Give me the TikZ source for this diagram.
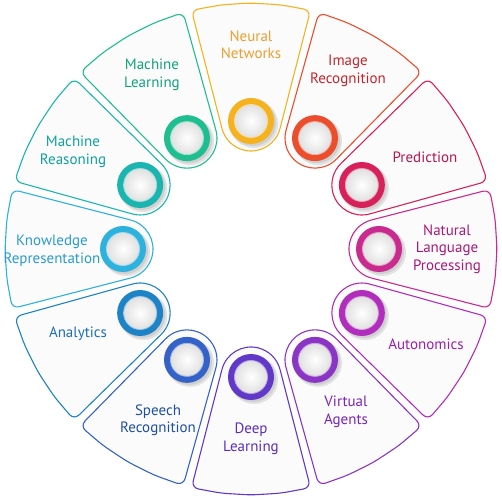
\documentclass[tikz,border=0pt]{standalone}
\usepackage{fontspec}
\setmainfont{PT Sans}

%% segment colours (ring / text)
\definecolor{nnRing}{HTML}{F5B21F}  \definecolor{nnText}{HTML}{E9A030}
\definecolor{irRing}{HTML}{EA4E2C}  \definecolor{irText}{HTML}{C4262D}
\definecolor{prRing}{HTML}{D7215B}  \definecolor{prText}{HTML}{B5174F}
\definecolor{nlRing}{HTML}{C92A8E}  \definecolor{nlText}{HTML}{A8197A}
\definecolor{auRing}{HTML}{B12EBC}  \definecolor{auText}{HTML}{9A1FB0}
\definecolor{vaRing}{HTML}{8A35C4}  \definecolor{vaText}{HTML}{7A25B5}
\definecolor{dlRing}{HTML}{6238C8}  \definecolor{dlText}{HTML}{5A2DBE}
\definecolor{srRing}{HTML}{3462C8}  \definecolor{srText}{HTML}{1F4FA0}
\definecolor{anRing}{HTML}{1E83C6}  \definecolor{anText}{HTML}{1E6FB5}
\definecolor{krRing}{HTML}{2DB1DD}  \definecolor{krText}{HTML}{2A9BD0}
\definecolor{mrRing}{HTML}{1BB5B0}  \definecolor{mrText}{HTML}{12A0A0}
\definecolor{mlRing}{HTML}{1FBE90}  \definecolor{mlText}{HTML}{12A37B}

\tikzset{
  wedge/.style={line width=1.1pt, rounded corners=7, line join=round},
  wedgebase/.style={line width=1.1pt},
  ring/.style={circle, minimum size=46, inner sep=0},
  disc/.style={circle, minimum size=33, inner sep=0, inner color=white, outer color=black!12},
  seglabel/.style={align=center, font=\fontsize{15}{17.5}\selectfont},
}

\begin{document}
\begin{tikzpicture}[x=1pt,y=1pt]
  \useasboundingbox (-251,-253) rectangle (251,249);

%% wedges, drawn pointing up and rotated into place
\foreach \ang/\nm in {90/nn,60/ir,30/pr,0/nl,-30/au,-60/va,-90/dl,-120/sr,-150/an,180/kr,150/mr,120/ml}{
  \begin{scope}[rotate=\ang-90]
    \fill[black!1.5] (-29.04,120.49) -- (104:246) -- (97:246) -- (90:246) -- (83:246) -- (76:246)
      -- (29.04,120.49) arc[start angle=-14.5, end angle=-165.5, radius=30] -- cycle;
    \draw[wedge, draw=\nm Ring] (-29.04,120.49) -- (104:246) -- (97:246) -- (90:246) -- (83:246) -- (76:246)
      -- (29.04,120.49);
    \draw[wedgebase, draw=\nm Ring] (29.04,120.49) arc[start angle=-14.5, end angle=-165.5, radius=30];
  \end{scope}
  %% shadow, ring and disc
  \fill[black!40, opacity=.25] ([shift={(3,-3)}]\ang:128) circle (24);
  \fill[black!40, opacity=.25] ([shift={(2,-2)}]\ang:128) circle (23);
  \node[ring, fill=\nm Ring] (\nm-ring) at (\ang:128) {};
  \node[disc, draw=\nm Ring!45!white, line width=0.8pt] (\nm-disc) at (\ang:128) {};
}

%% labels
\node[seglabel, text=nnText] (nn-text) at (0,204)     {Neural\\Networks};
\node[seglabel, text=irText] (ir-text) at (97,178)    {Image\\Recognition};
\node[seglabel, text=prText] (pr-text) at (174,92)    {Prediction};
\node[seglabel, text=nlText] (nl-text) at (196,0)     {Natural\\Language\\Processing};
\node[seglabel, text=auText] (au-text) at (175,-95)   {Autonomics};
\node[seglabel, text=vaText] (va-text) at (95,-163)   {Virtual\\Agents};
\node[seglabel, text=dlText] (dl-text) at (0,-190)    {Deep\\Learning};
\node[seglabel, text=srText] (sr-text) at (-93,-171)  {Speech\\Recognition};
\node[seglabel, text=anText] (an-text) at (-173,-85)  {Analytics};
\node[seglabel, text=krText] (kr-text) at (-199,-2)   {Knowledge\\Representation};
\node[seglabel, text=mrText] (mr-text) at (-178,97)   {Machine\\Reasoning};
\node[seglabel, text=mlText] (ml-text) at (-99,174)   {Machine\\Learning};

\end{tikzpicture}
\end{document}
